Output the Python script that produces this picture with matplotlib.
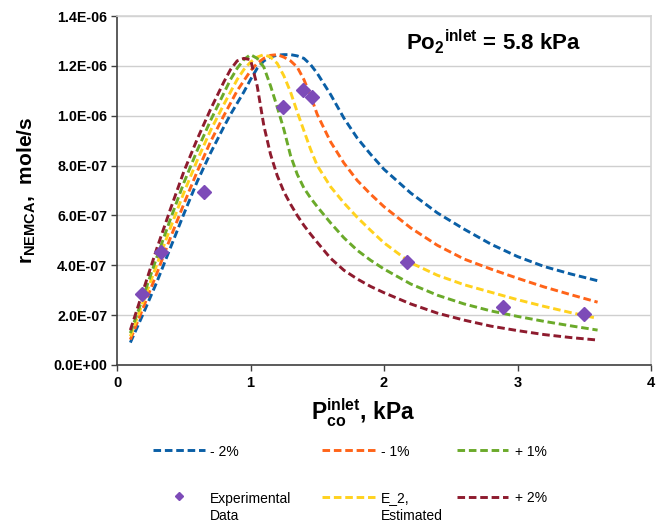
import numpy as np
import matplotlib
matplotlib.use("Agg")
import matplotlib.pyplot as plt
from matplotlib.lines import Line2D
from matplotlib.ticker import FuncFormatter

plt.rcParams["font.family"] = ["Liberation Sans", "DejaVu Sans"]
plt.rcParams["mathtext.fontset"] = "custom"
plt.rcParams["mathtext.rm"] = "Liberation Sans"
plt.rcParams["mathtext.bf"] = "Liberation Sans:bold"

# CO inlet partial pressure, kPa
p_co = [0.1, 0.2, 0.3, 0.4, 0.5, 0.6, 0.7, 0.8, 0.85, 0.9, 0.95, 1.0, 1.05, 1.1,
        1.15, 1.2, 1.25, 1.3, 1.35, 1.4, 1.45, 1.5, 1.6, 1.7, 1.8, 1.9, 2.0,
        2.2, 2.4, 2.6, 2.8, 3.0, 3.2, 3.4, 3.6]

# NEMCA rate, units of 1e-7 mole/s
rate_m2 = [0.9, 2.1, 3.35, 4.7, 6.05, 7.35, 8.5, 9.55, 10.05, 10.5, 10.95, 11.45, 11.9, 12.2,
           12.35, 12.43, 12.45, 12.45, 12.4, 12.3, 12.05, 11.7, 10.85, 9.9, 9.1, 8.45, 7.85,
           6.9, 6.1, 5.45, 4.85, 4.35, 3.95, 3.65, 3.38]
rate_m1 = [1.02, 2.35, 3.7, 5.1, 6.45, 7.75, 8.95, 10.0, 10.5, 11.0, 11.4, 11.8, 12.1, 12.3,
           12.42, 12.45, 12.35, 12.2, 11.95, 11.45, 10.8, 10.05, 8.95, 8.1, 7.4, 6.85, 6.35,
           5.5, 4.8, 4.25, 3.85, 3.48, 3.13, 2.82, 2.52]
rate_e2 = [1.15, 2.6, 4.05, 5.5, 6.9, 8.2, 9.4, 10.45, 10.95, 11.45, 11.85, 12.15, 12.35, 12.45,
           12.35, 12.1, 11.6, 10.95, 10.15, 9.4, 8.65, 8.0, 7.15, 6.5, 5.92, 5.4, 4.9,
           4.1, 3.6, 3.22, 2.92, 2.62, 2.35, 2.1, 1.87]
rate_p1 = [1.28, 2.8, 4.35, 5.85, 7.3, 8.6, 9.8, 10.9, 11.45, 11.9, 12.25, 12.45, 12.3, 11.95,
           11.2, 10.35, 9.45, 8.4, 7.65, 7.1, 6.7, 6.35, 5.7, 5.1, 4.6, 4.2, 3.85,
           3.25, 2.8, 2.45, 2.17, 1.95, 1.75, 1.57, 1.4]
rate_p2 = [1.4, 3.05, 4.7, 6.25, 7.75, 9.05, 10.25, 11.35, 11.85, 12.2, 12.3, 12.25, 11.2, 9.6,
           8.45, 7.6, 6.95, 6.45, 6.0, 5.6, 5.25, 4.92, 4.28, 3.8, 3.45, 3.15, 2.9,
           2.45, 2.08, 1.8, 1.56, 1.38, 1.22, 1.1, 1.0]

# Experimental data
exp_p = [0.185, 0.33, 0.65, 1.24, 1.39, 1.46, 2.17, 2.89, 3.50]
exp_r = [2.84, 4.52, 6.95, 10.34, 11.03, 10.76, 4.12, 2.34, 2.03]

series_labels = ["- 2%", "- 1%", "E_2,\nEstimated", "+ 1%", "+ 2%"]
series_colors = ["#0A5FA6", "#FF6419", "#FFD21E", "#6BAA2A", "#8E1B2E"]
exp_label = "Experimental\nData"
exp_color = "#7D4BB8"

x_ticks = [0, 1, 2, 3, 4]
y_ticks = np.arange(0, 1.41e-6, 0.2e-6)

scale = 1e-7
series = [rate_m2, rate_m1, rate_e2, rate_p1, rate_p2]

W, H = 664, 522
fig = plt.figure(figsize=(W / 100, H / 100), dpi=100)
ax = fig.add_axes([117 / W, 1 - 365 / H, (651 - 117) / W, (365 - 16) / H])

dash = (2.6, 1.3)
lw = 2.1
for vals, col in zip(series, series_colors):
    ax.plot(p_co, np.array(vals) * scale, color=col, lw=lw,
            linestyle=(0, dash), dash_capstyle="butt", zorder=3)

ax.plot(exp_p, np.array(exp_r) * scale, linestyle="none", marker="D",
        markersize=7.6, color=exp_color, markeredgecolor=exp_color, zorder=4)

ax.set_xlim(0, 4)
ax.set_ylim(0, 1.4e-6)
ax.set_xticks(x_ticks)
ax.set_yticks(y_ticks)
ax.yaxis.set_major_formatter(FuncFormatter(lambda v, p: f"{v:.1E}"))
ax.grid(axis="y", color="#CFCFCF", lw=1.0, zorder=0)
ax.set_axisbelow(True)

for s in ["left", "bottom"]:
    ax.spines[s].set_color("#404040")
    ax.spines[s].set_linewidth(1.2)
for s in ["right", "top"]:
    ax.spines[s].set_color("#D4D4D4")
    ax.spines[s].set_linewidth(1.2)

ax.tick_params(axis="y", direction="out", length=4, width=1, color="#404040",
               labelsize=10.3, pad=3)
ax.tick_params(axis="x", direction="out", length=4, width=1, color="#404040",
               labelsize=10.5, pad=4)
for lab in ax.get_xticklabels() + ax.get_yticklabels():
    lab.set_fontweight("bold")

fig.text(493 / W, 1 - 42 / H, r"Po$_\mathbf{2}{}^\mathbf{inlet}$ = 5.8 kPa",
         ha="center", va="center", fontsize=16, fontweight="bold")

fig.text(363 / W, 1 - 413 / H, r"P$_\mathbf{co}^\mathbf{inlet}$, kPa",
         ha="center", va="center", fontsize=16.4, fontweight="bold")

fig.text(27 / W, 1 - 190 / H, r"r$_\mathbf{NEMCA}$,  mole/s",
         ha="center", va="center", rotation=90, fontsize=15, fontweight="bold")

# Legend, three columns by two rows
handle_x = [(153, 205), (322, 375), (457, 508)]
text_x = [210, 381, 515]
row_y = [450, 497]
entries = [
    (0, 0, series_labels[0], series_colors[0]),
    (1, 0, series_labels[1], series_colors[1]),
    (2, 0, series_labels[3], series_colors[3]),
    (1, 1, series_labels[2], series_colors[2]),
    (2, 1, series_labels[4], series_colors[4]),
]


def legend_text(col, row, label):
    fig.text(text_x[col] / W, 1 - (row_y[row] - 5.5) / H, label, ha="left",
             va="top", fontsize=10, linespacing=1.3)


for c, r, lab, col in entries:
    x0, x1 = handle_x[c]
    y = 1 - row_y[r] / H
    fig.add_artist(Line2D([x0 / W, x1 / W], [y, y], transform=fig.transFigure,
                          color=col, lw=lw, linestyle=(0, dash), dash_capstyle="butt"))
    legend_text(c, r, lab)

yexp = 1 - 496 / H
fig.add_artist(Line2D([179 / W], [yexp], transform=fig.transFigure, marker="D",
                      markersize=3.6, color=exp_color, linestyle="none"))
legend_text(0, 1, exp_label)

fig.savefig("out.png", dpi=100)
